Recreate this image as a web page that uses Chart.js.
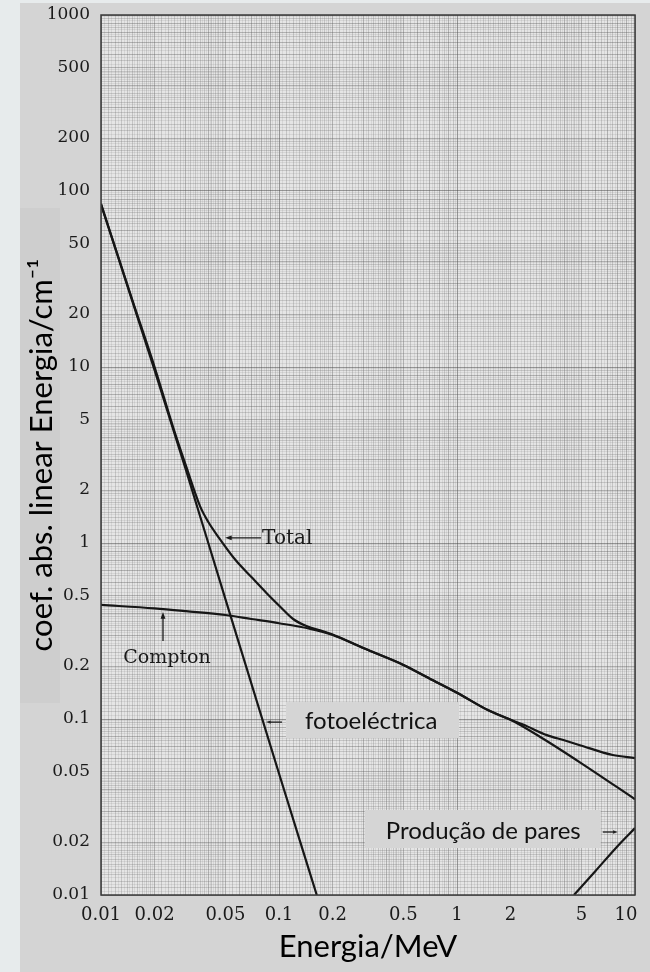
<!DOCTYPE html>
<html lang="pt">
<head>
<meta charset="utf-8">
<title>Coeficiente de absorção linear</title>
<script src="https://cdn.jsdelivr.net/npm/chart.js@4.4.1/dist/chart.umd.min.js"></script>
<style>
  html, body { margin:0; padding:0; background:#e7ebec; }
  canvas { display:block; }
</style>
</head>
<body>
<canvas id="grafico" width="650" height="972"></canvas>
<script>
// Valores (energia em MeV, coeficiente em cm^-1)
const fotoE  = [0.01, 0.02, 0.03, 0.05, 0.1, 0.163];
const fotoMu = [84, 9.6, 2.6, 0.48, 0.049, 0.01];

const comptonE  = [0.01, 0.02, 0.03, 0.05, 0.07, 0.1, 0.15, 0.2, 0.3, 0.5, 0.7, 1, 1.5, 2, 3, 5, 10];
const comptonMu = [0.445, 0.425, 0.41, 0.39, 0.37, 0.35, 0.325, 0.3, 0.252, 0.203, 0.17, 0.141, 0.112, 0.099, 0.078, 0.056, 0.035];

const totalE  = [0.01, 0.015, 0.02, 0.0254, 0.03, 0.036, 0.04, 0.046, 0.057, 0.07, 0.085, 0.1026, 0.12, 0.146, 0.17, 0.2, 0.3, 0.5, 0.7, 1, 1.5, 2, 2.35, 3.2, 4, 4.9, 7.5, 10];
const totalMu = [84.5, 24, 10, 4.56, 2.75, 1.62, 1.32, 1.07, 0.8, 0.64, 0.52, 0.43, 0.37, 0.334, 0.319, 0.302, 0.252, 0.203, 0.17, 0.141, 0.112, 0.099, 0.093, 0.081, 0.0757, 0.071, 0.0624, 0.06];

const paresE  = [4.54, 6, 8, 10];
const paresMu = [0.01, 0.0137, 0.019, 0.024];

const xLabels = [0.01, 0.02, 0.05, 0.1, 0.2, 0.5, 1, 2, 5, 10];
const yLabels = [0.01, 0.02, 0.05, 0.1, 0.2, 0.5, 1, 2, 5, 10, 20, 50, 100, 200, 500, 1000];

// linhas do papel logarítmico
function gridValues(lo, hi) {
  const out = [];
  for (let e = Math.round(Math.log10(lo)); e < Math.round(Math.log10(hi)); e++) {
    const p = Math.pow(10, e);
    let m = 1;
    while (m < 10 - 1e-9) {
      out.push(+(m * p).toPrecision(6));
      m = +(m + (m < 2 - 1e-9 ? 0.05 : m < 5 - 1e-9 ? 0.1 : 0.25)).toFixed(2);
    }
  }
  out.push(hi);
  return out;
}
function gridColor(v) {
  if (!v) return 'rgba(0,0,0,0)';
  const m = +(v / Math.pow(10, Math.floor(Math.log10(v) + 1e-9))).toFixed(2);
  const whole = x => Math.abs(x - Math.round(x)) < 1e-6;
  if (Math.abs(m - 1) < 1e-6 || Math.abs(m - 10) < 1e-6) return 'rgba(70,70,70,0.5)';
  if (whole(m)) return 'rgba(90,90,90,0.38)';
  if ((m < 2 && whole(m * 10)) || (m >= 2 && m < 5 && whole(m * 5)) || (m >= 5 && whole(m * 2))) return 'rgba(110,110,110,0.28)';
  return 'rgba(130,130,130,0.16)';
}
function label(v, list) {
  const hit = list.find(l => Math.abs(Math.log10(v) - Math.log10(l)) < 1e-6);
  if (hit === undefined) return '';
  // o último rótulo fica recolhido para dentro, como no original
  return hit === list[list.length - 1] && list === xLabels ? hit + '\u2003' : String(hit);
}
const serie = (xs, ys) => xs.map((x, i) => ({ x, y: ys[i] }));

const xGrid = gridValues(0.01, 10);
const yGrid = gridValues(0.01, 1000);

function arrow(ctx, x1, y1, x2, y2, head) {
  const ang = Math.atan2(y2 - y1, x2 - x1);
  ctx.beginPath();
  ctx.moveTo(x1, y1); ctx.lineTo(x2 - Math.cos(ang) * head * 0.6, y2 - Math.sin(ang) * head * 0.6);
  ctx.stroke();
  ctx.beginPath();
  ctx.moveTo(x2, y2);
  ctx.lineTo(x2 - head * Math.cos(ang - 0.35), y2 - head * Math.sin(ang - 0.35));
  ctx.lineTo(x2 - head * Math.cos(ang + 0.35), y2 - head * Math.sin(ang + 0.35));
  ctx.closePath();
  ctx.fill();
}

// fundo: papel digitalizado
const papel = {
  id: 'papel',
  beforeDraw(chart) {
    const { ctx, chartArea: a, width, height } = chart;
    ctx.save();
    ctx.fillStyle = '#e7ebec'; ctx.fillRect(0, 0, width, height);
    ctx.fillStyle = '#d4d4d4'; ctx.fillRect(20, 3, width - 20, height - 3);
    ctx.fillStyle = '#cecece'; ctx.fillRect(20, 208, 40, 495);
    ctx.fillStyle = '#e5e5e5'; ctx.fillRect(a.left, a.top, a.right - a.left, a.bottom - a.top);
    ctx.restore();
  },
  afterDatasetsDraw(chart) {
    const { ctx, chartArea: a } = chart;
    ctx.save();
    ctx.strokeStyle = '#3a3a3a'; ctx.lineWidth = 1.5;
    ctx.strokeRect(a.left, a.top, a.right - a.left, a.bottom - a.top);
    ctx.restore();
  }
};

// rótulos e setas
const notas = {
  id: 'notas',
  afterDraw(chart) {
    const { ctx, scales: { x, y } } = chart;
    const at = (e, v) => [x.getPixelForValue(e), y.getPixelForValue(v)];
    ctx.save();
    ctx.strokeStyle = '#1a1a1a'; ctx.fillStyle = '#1a1a1a'; ctx.lineWidth = 1.3;
    ctx.textBaseline = 'middle';

    // Total
    let [tx, ty] = at(0.0498, 1.07);
    arrow(ctx, tx + 36, ty, tx, ty, 7);
    ctx.font = '20px "DejaVu Serif"';
    ctx.textAlign = 'left';
    ctx.fillText('Total', tx + 37, ty + 1);

    // Compton
    [tx, ty] = at(0.0223, 0.405);
    arrow(ctx, tx, ty + 29, tx, ty, 7);
    ctx.textAlign = 'center';
    ctx.font = '19px "DejaVu Serif"';
    ctx.fillText('Compton', tx + 4, ty + 46);

    // fotoeléctrica
    [tx, ty] = at(0.0845, 0.096);
    ctx.fillStyle = '#d5d5d5';
    ctx.fillRect(tx + 20, ty - 20, 173, 36);
    ctx.fillStyle = '#222';
    arrow(ctx, tx + 16, ty, tx, ty, 5);
    ctx.fillStyle = '#111';
    ctx.textAlign = 'left';
    ctx.font = '24px Lato, "Noto Sans"';
    ctx.fillText('fotoeléctrica', tx + 39, ty - 1);

    // Produção de pares
    [tx, ty] = at(8.0, 0.0228);
    ctx.fillStyle = '#d5d5d5';
    ctx.fillRect(tx - 253, ty - 22, 236, 38);
    ctx.fillStyle = '#222';
    arrow(ctx, tx - 15, ty, tx, ty, 5);
    ctx.fillStyle = '#111';
    ctx.fillText('Produção de pares', tx - 232, ty - 1);
    ctx.restore();
  }
};

const linha = { borderColor: '#161616', borderWidth: 2.2, pointRadius: 0, fill: false, cubicInterpolationMode: 'monotone' };

new Chart(document.getElementById('grafico'), {
  type: 'line',
  data: {
    datasets: [
      { label: 'fotoeléctrica', data: serie(fotoE, fotoMu), ...linha },
      { label: 'Compton', data: serie(comptonE, comptonMu), ...linha },
      { label: 'Total', data: serie(totalE, totalMu), ...linha },
      { label: 'Produção de pares', data: serie(paresE, paresMu), ...linha }
    ]
  },
  options: {
    responsive: false,
    animation: false,
    layout: { padding: { top: 15, right: 15, left: 0, bottom: 0 } },
    plugins: { legend: { display: false }, tooltip: { enabled: false } },
    scales: {
      x: {
        type: 'logarithmic', min: 0.01, max: 10,
        afterBuildTicks: s => { s.ticks = xGrid.map(v => ({ value: v })); },
        afterFit: s => { s.height = 77; s.paddingLeft = 0; s.paddingRight = 0; },
        grid: { color: c => gridColor(c.tick && c.tick.value), lineWidth: 1, drawTicks: false },
        border: { display: false },
        ticks: {
          autoSkip: false, maxRotation: 0, padding: 10, color: '#1a1a1a',
          font: { family: 'DejaVu Serif', size: 18 },
          callback: v => label(v, xLabels)
        },
        title: { display: true, text: 'Energia/MeV', color: '#000', font: { family: 'Lato', size: 31 }, padding: { top: 0, bottom: 6 } }
      },
      y: {
        type: 'logarithmic', min: 0.01, max: 1000,
        afterBuildTicks: s => { s.ticks = yGrid.map(v => ({ value: v })); },
        afterFit: s => { s.width = 101; s.paddingTop = 0; s.paddingBottom = 0; },
        grid: { color: c => gridColor(c.tick && c.tick.value), lineWidth: 1, drawTicks: false },
        border: { display: false },
        ticks: {
          autoSkip: false, padding: 11, color: '#1a1a1a',
          font: { family: 'DejaVu Serif', size: 17 },
          callback: v => label(v, yLabels)
        },
        title: { display: true, text: 'coef. abs. linear Energia/cm⁻¹', color: '#000', font: { family: 'Lato', size: 31 }, padding: { top: 23, bottom: 0 } }
      }
    }
  },
  plugins: [papel, notas]
});
</script>
</body>
</html>
